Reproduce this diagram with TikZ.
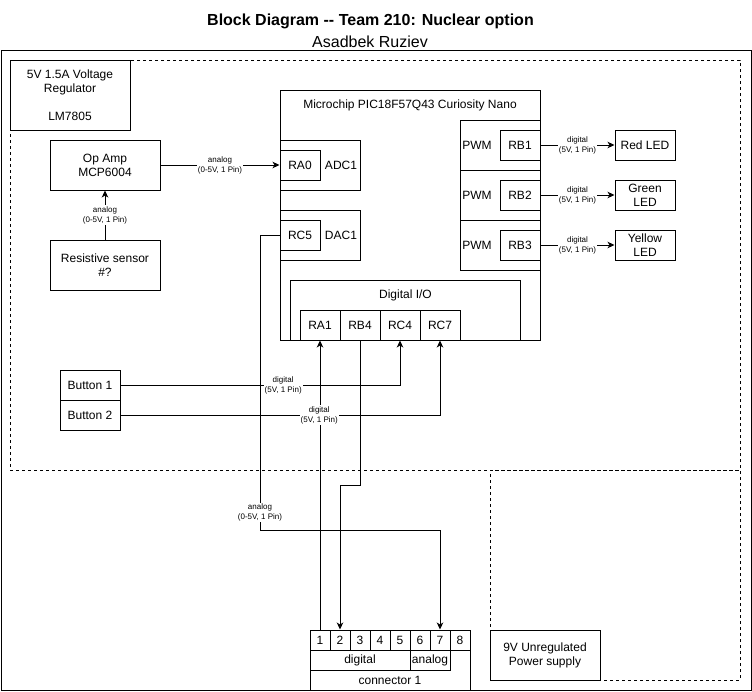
\documentclass[tikz,border=0pt]{standalone}
\usepackage{fontspec}
\setmainfont{Liberation Sans}
\usetikzlibrary{arrows.meta}
\tikzset{
  blk/.style={draw, line width=1pt, fill=white, inner sep=0pt, align=center, font=\fontsize{12}{14}\selectfont},
  txt/.style={inner sep=0pt, align=center, font=\fontsize{12}{14}\selectfont},
  lbl/.style={fill=white, inner sep=1pt, align=center, font=\fontsize{8}{10}\selectfont},
  wire/.style={line width=1pt},
  arr/.style={line width=1pt, -{Stealth[length=7pt,width=6.5pt,inset=2pt]}},
  dregion/.style={draw, line width=1pt, dash pattern=on 3pt off 3pt, inner sep=0pt},
}
\newcommand\mybox[7][blk]{\node[#1, minimum width={(#5-#3)*1pt}, minimum height={(#6-#4)*1pt}] (#2) at ({(#3+#5)/2},{(#4+#6)/2}) {#7};}
\begin{document}
\begin{tikzpicture}[x=1pt,y=-1pt]
\useasboundingbox (0,0) rectangle (752,691);
% titles
\node[inner sep=0pt, font=\bfseries\fontsize{16}{19}\selectfont] (title) at (370.5,21) {Block Diagram -{}- Team 210: Nuclear option};
\node[inner sep=0pt, font=\fontsize{16}{19}\selectfont] (sub) at (370,42) {Asadbek Ruziev};
% outer frame and regions
\mybox{outer}{1}{50}{751}{690}{}
\mybox[dregion]{upper}{10}{60}{740}{470}{}
\mybox[dregion]{lower}{490}{470}{740}{680}{}
% left blocks
\mybox{reg}{10}{60}{130}{130}{5V 1.5A Voltage\\Regulator\\[14pt]LM7805}
\mybox{opamp}{50}{140}{160}{190}{Op Amp\\MCP6004}
\mybox{sensor}{50}{240}{160}{290}{Resistive sensor\\\#?}
% microcontroller
\mybox{mcu}{280}{90}{540}{340}{}
\node[txt] (mcut) at (410,105) {Microchip PIC18F57Q43 Curiosity Nano};
\mybox{adc}{280}{140}{360}{190}{}
\node[txt] (adct) at (341,165) {ADC1};
\mybox{ra0}{280}{150}{320}{180}{RA0}
\mybox{dac}{280}{210}{360}{260}{}
\node[txt] (dact) at (341,235) {DAC1};
\mybox{rc5}{280}{220}{320}{250}{RC5}
% PWM
\mybox{pwma}{460}{120}{540}{170}{}
\mybox{pwmb}{460}{170}{540}{220}{}
\mybox{pwmc}{460}{220}{540}{270}{}
\node[txt] (pwmat) at (477,145) {PWM};
\node[txt] (pwmbt) at (477,195) {PWM};
\node[txt] (pwmct) at (477,245) {PWM};
\mybox{rb1}{500}{130}{540}{160}{RB1}
\mybox{rb2}{500}{180}{540}{210}{RB2}
\mybox{rb3}{500}{230}{540}{260}{RB3}
% LEDs
\mybox{red}{615}{130}{675}{160}{Red LED}
\mybox{green}{615}{180}{675}{210}{Green\\LED}
\mybox{yellow}{615}{230}{675}{260}{Yellow\\LED}
% Digital I/O
\mybox{dio}{290}{280}{520}{340}{}
\node[txt] (diot) at (405.5,295) {Digital I/O};
\mybox{ra1}{300}{310}{340}{340}{RA1}
\mybox{rb4}{340}{310}{380}{340}{RB4}
\mybox{rc4}{380}{310}{420}{340}{RC4}
\mybox{rc7}{420}{310}{460}{340}{RC7}
% buttons
\mybox{b1}{60}{370}{120}{400}{Button 1}
\mybox{b2}{60}{400}{120}{430}{Button 2}
% connector
\mybox{conn}{310}{630}{470}{690}{}
\node[txt] (connt) at (390,680) {connector 1};
\mybox{p1}{310}{630}{330}{650}{1}
\mybox{p2}{330}{630}{350}{650}{2}
\mybox{p3}{350}{630}{370}{650}{3}
\mybox{p4}{370}{630}{390}{650}{4}
\mybox{p5}{390}{630}{410}{650}{5}
\mybox{p6}{410}{630}{430}{650}{6}
\mybox{p7}{430}{630}{450}{650}{7}
\mybox{p8}{450}{630}{470}{650}{8}
\mybox{cdig}{310}{650}{410}{670}{digital}
\mybox{cana}{410}{650}{450}{670}{analog}
% power supply
\mybox{psu}{490}{630}{600}{680}{9V Unregulated\\Power supply}
% wires
\coordinate (rc5bend) at (260,530);
\coordinate (rb4bend) at (360,485);
\draw[arr] (sensor.north) -- (opamp.south);
\draw[arr] (opamp.east) -- (ra0.west);
\draw[arr] (rb1.east) -- (red.west);
\draw[arr] (rb2.east) -- (green.west);
\draw[arr] (rb3.east) -- (yellow.west);
\draw[arr] (p1.north) -- (p1.north |- ra1.south);
\draw[arr] (rc5.west) -| (rc5bend) -- (rc5bend -| p7.north) -- (p7.north);
\draw[arr] (rb4.south) -- (rb4.south |- rb4bend) -| (p2.north);
\draw[arr] (b1.east) -- (b1.east -| rc4.south) -- (rc4.south);
\draw[arr] (b2.east) -- (b2.east -| rc7.south) -- (rc7.south);
% labels
\path (sensor.north) -- node[lbl] (l1) {analog\\(0-5V, 1 Pin)} (opamp.south);
\path (opamp.east) -- node[lbl] (l2) {analog\\(0-5V, 1 Pin)} (ra0.west);
\path (rb1.east) -- node[lbl] (l3) {digital\\(5V, 1 Pin)} (red.west);
\path (rb2.east) -- node[lbl] (l4) {digital\\(5V, 1 Pin)} (green.west);
\path (rb3.east) -- node[lbl] (l5) {digital\\(5V, 1 Pin)} (yellow.west);
\path (b1.east) -- node[lbl, pos=0.582] (l6) {digital\\(5V, 1 Pin)} (b1.east -| rc4.south);
\path (b2.east) -- node[lbl, pos=0.622] (l7) {digital\\(5V, 1 Pin)} (b2.east -| rc7.south);
\path (rc5.west -| rc5bend) -- node[lbl, pos=0.94] (l8) {analog\\(0-5V, 1 Pin)} (rc5bend);
\end{tikzpicture}
\end{document}
